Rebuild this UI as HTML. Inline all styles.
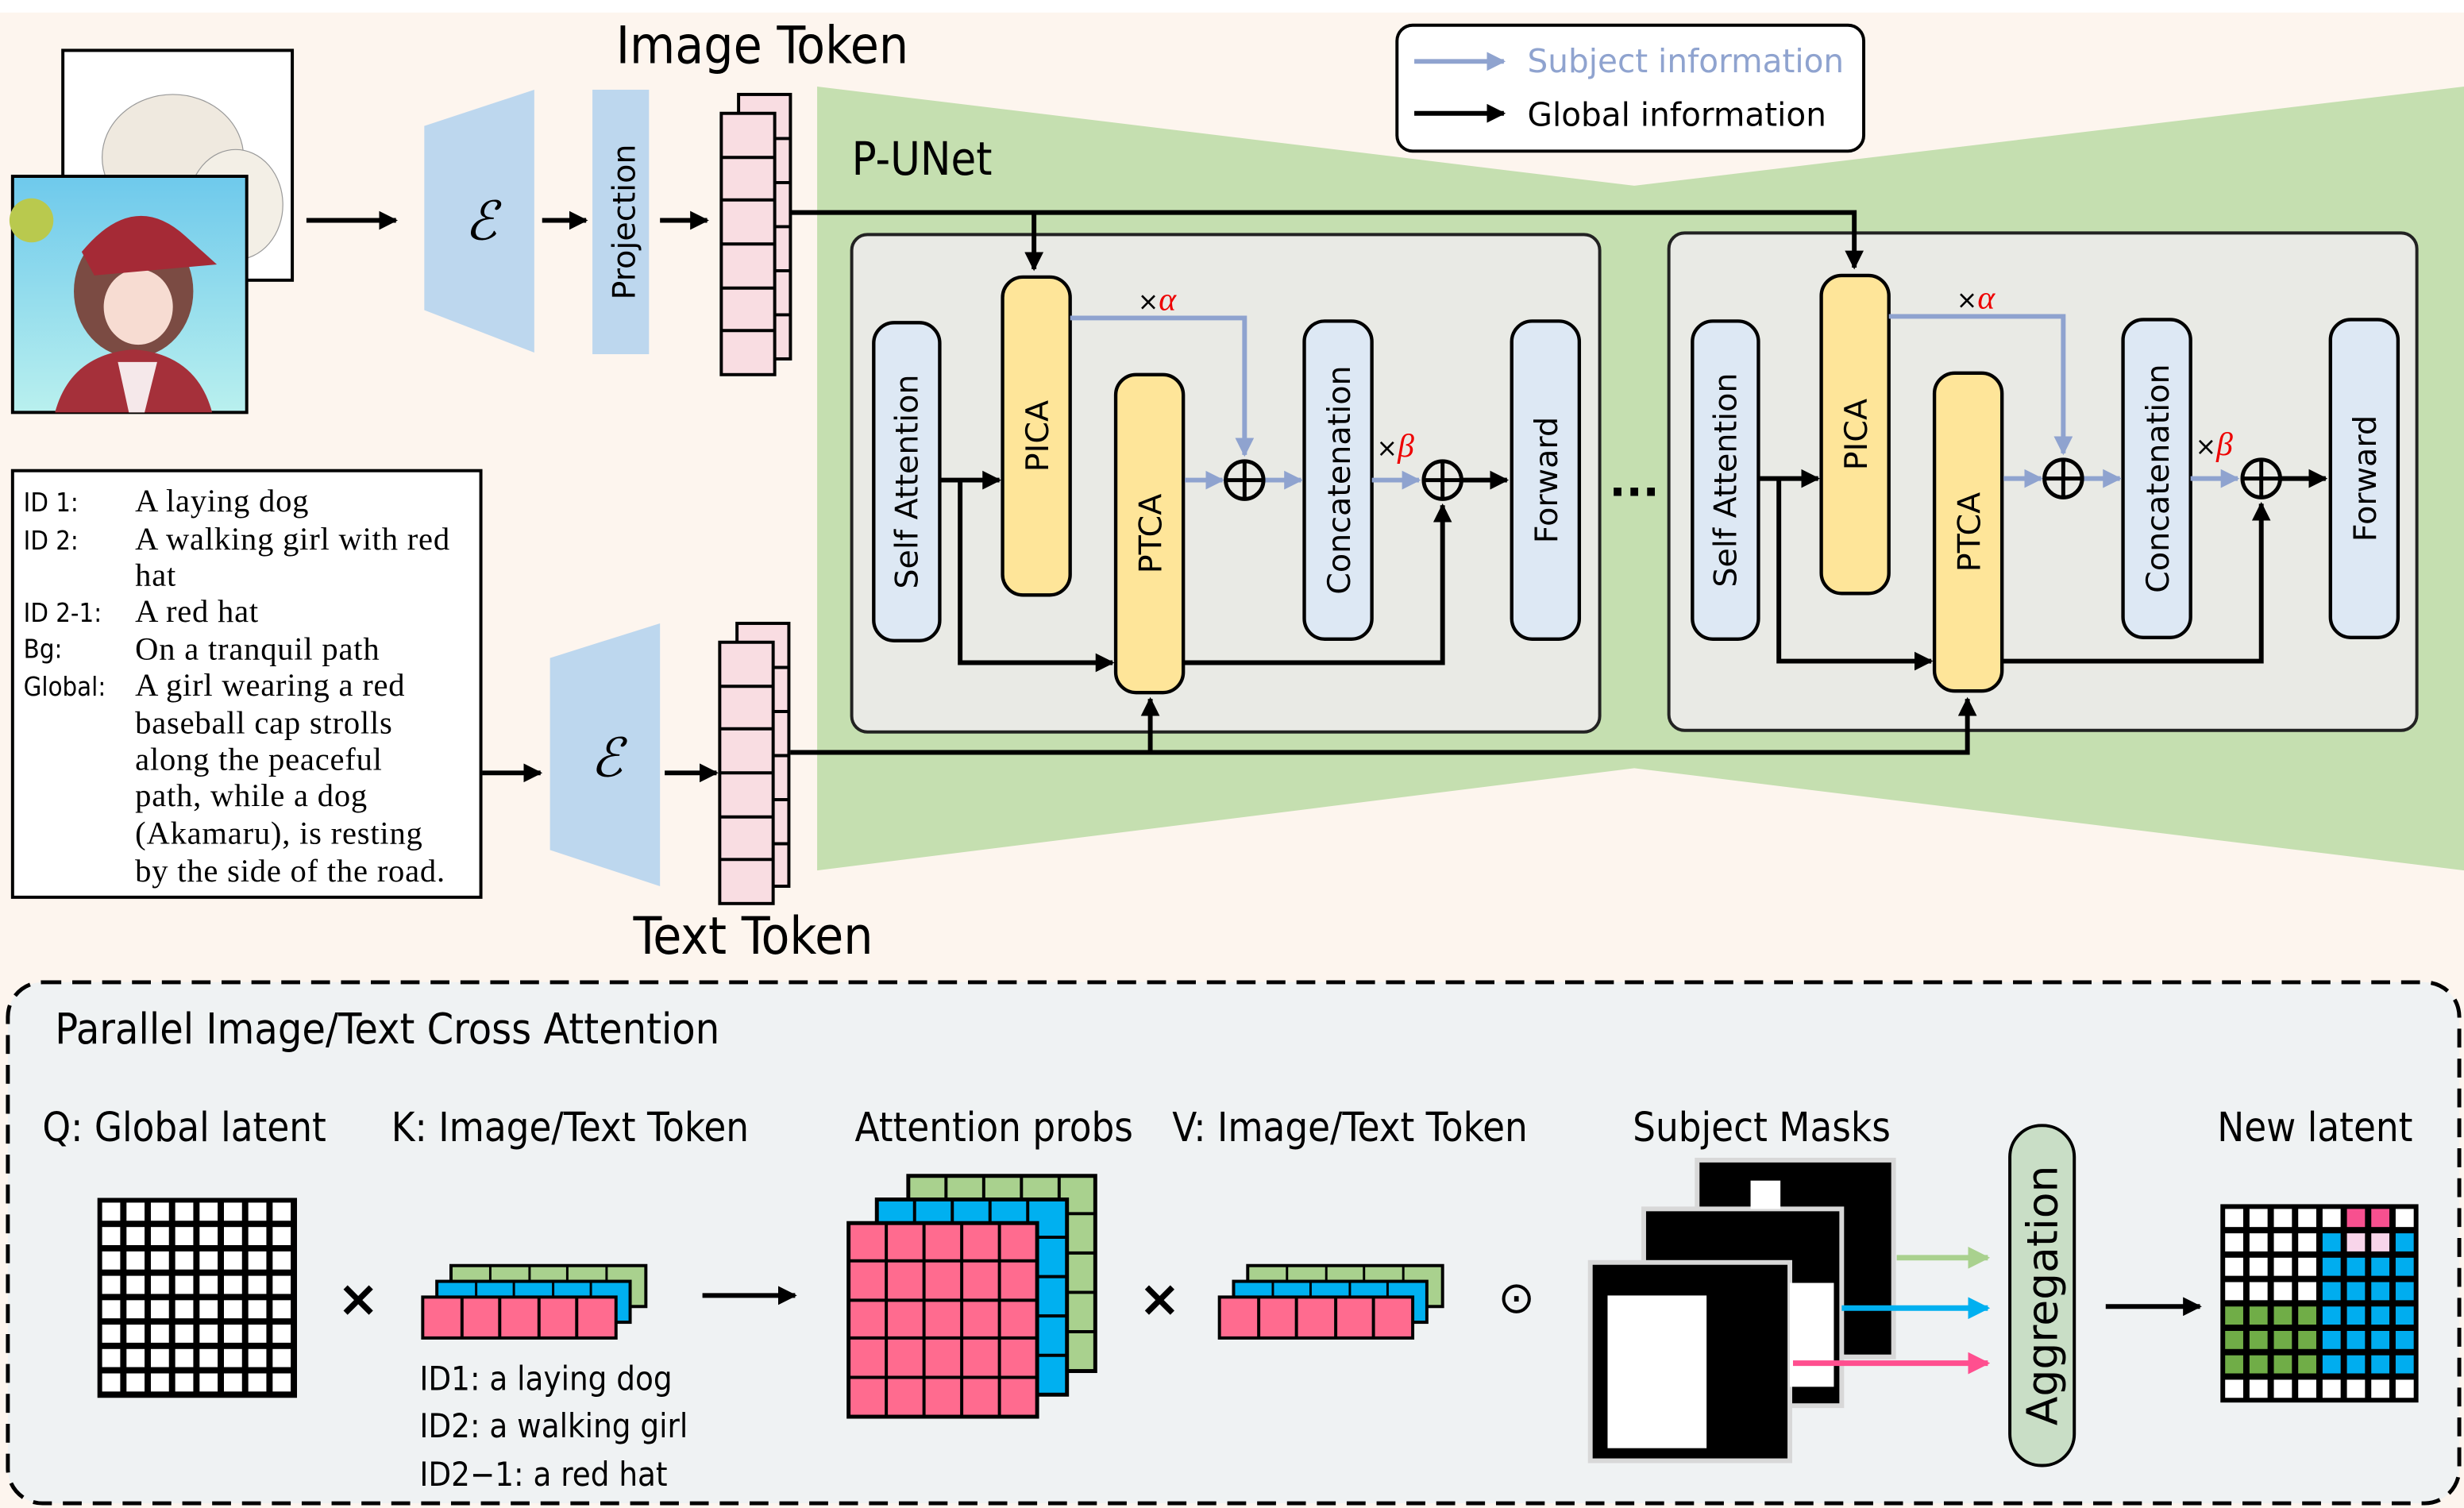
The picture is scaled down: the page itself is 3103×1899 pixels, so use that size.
<!DOCTYPE html>
<html><head><meta charset="utf-8"><style>
html,body{margin:0;padding:0;background:#fff;}
svg{display:block;}
.hw{font-family:"DejaVu Sans Condensed","DejaVu Sans",sans-serif;}
.sans{font-family:"DejaVu Sans","Liberation Sans",sans-serif;}
.ser{font-family:"Liberation Serif",serif;}
</style></head><body>
<svg width="3103" height="1899" viewBox="0 0 1568 958" preserveAspectRatio="none" xmlns="http://www.w3.org/2000/svg">
<defs>
<marker id="ab" viewBox="0 0 10 10" refX="9" refY="5" markerWidth="4" markerHeight="4" orient="auto"><path d="M0,0L10,5L0,10z" fill="#000"/></marker>
<marker id="ag" viewBox="0 0 10 10" refX="9" refY="5" markerWidth="4" markerHeight="4" orient="auto"><path d="M0,0L10,5L0,10z" fill="#8fa3cf"/></marker>
<marker id="agr" viewBox="0 0 10 10" refX="9" refY="5" markerWidth="4" markerHeight="4" orient="auto"><path d="M0,0L10,5L0,10z" fill="#a9d18e"/></marker>
<marker id="abl" viewBox="0 0 10 10" refX="9" refY="5" markerWidth="4" markerHeight="4" orient="auto"><path d="M0,0L10,5L0,10z" fill="#00b0f0"/></marker>
<marker id="apk" viewBox="0 0 10 10" refX="9" refY="5" markerWidth="4" markerHeight="4" orient="auto"><path d="M0,0L10,5L0,10z" fill="#ff4f8f"/></marker>
<pattern id="qg" x="63" y="762" width="15.5" height="15.5" patternUnits="userSpaceOnUse"><rect width="15.5" height="15.5" fill="#000"/><rect x="2" y="2" width="11.5" height="11.5" fill="#fff"/></pattern>
<pattern id="nw" x="1414" y="766" width="15.5" height="15.5" patternUnits="userSpaceOnUse"><rect width="15.5" height="15.5" fill="#000"/><rect x="2" y="2" width="11.5" height="11.5" fill="#fff"/></pattern>
<pattern id="nb" x="1414" y="766" width="15.5" height="15.5" patternUnits="userSpaceOnUse"><rect width="15.5" height="15.5" fill="#000"/><rect x="2" y="2" width="11.5" height="11.5" fill="#00adef"/></pattern>
<pattern id="np" x="1414" y="766" width="15.5" height="15.5" patternUnits="userSpaceOnUse"><rect width="15.5" height="15.5" fill="#000"/><rect x="2" y="2" width="11.5" height="11.5" fill="#f7508f"/></pattern>
<pattern id="nlp" x="1414" y="766" width="15.5" height="15.5" patternUnits="userSpaceOnUse"><rect width="15.5" height="15.5" fill="#000"/><rect x="2" y="2" width="11.5" height="11.5" fill="#f8d5ea"/></pattern>
<pattern id="ng" x="1414" y="766" width="15.5" height="15.5" patternUnits="userSpaceOnUse"><rect width="15.5" height="15.5" fill="#000"/><rect x="2" y="2" width="11.5" height="11.5" fill="#70ad47"/></pattern>
<linearGradient id="sky" x1="0" y1="0" x2="0" y2="1"><stop offset="0" stop-color="#6ec9ec"/><stop offset="1" stop-color="#b9f0ee"/></linearGradient>
</defs>
<rect x="0" y="0" width="1568" height="958" fill="#fff"/>
<rect x="0" y="8" width="1568" height="950" fill="#fdf5ee"/>
<rect x="5" y="624" width="1560" height="331" rx="22" fill="#eff2f3" stroke="#000" stroke-width="2.5" stroke-dasharray="12,7"/>
<polygon points="520,55 1040,118 1568,55 1568,553 1040,488 520,553" fill="#c5dfb0"/>

<rect x="40" y="32" width="146" height="146" fill="#fff" stroke="#000" stroke-width="2"/>
<ellipse cx="110" cy="100" rx="45" ry="40" fill="#efe9df" stroke="#999" stroke-width="0.6"/>
<ellipse cx="150" cy="130" rx="30" ry="35" fill="#f3efe6" stroke="#999" stroke-width="0.6"/>
<rect x="8" y="112" width="149" height="150" fill="url(#sky)" stroke="#000" stroke-width="2"/>
<circle cx="20" cy="140" r="14" fill="#b9c94e"/>
<ellipse cx="85" cy="185" rx="38" ry="42" fill="#7b4b43"/>
<ellipse cx="88" cy="195" rx="22" ry="24" fill="#f7dcd2"/>
<path d="M52,160 Q85,120 118,150 L138,168 L60,175z" fill="#a52a36"/>
<path d="M35,262 Q45,225 85,222 Q125,225 135,262z" fill="#a5303a"/>
<path d="M75,230 L100,230 L92,262 L82,262z" fill="#f5e8ea"/>

<polygon points="270,80 340,57 340,224 270,197" fill="#bdd7ee"/>
<text x="306" y="152" class="ser" font-size="34" font-style="italic" text-anchor="middle">ℰ</text>
<rect x="377" y="57" width="36" height="168" fill="#bdd7ee"/>
<text transform="translate(404,141) rotate(-90)" class="sans" font-size="20" text-anchor="middle">Projection</text>
<polygon points="350,418 420,396 420,563 350,540" fill="#bdd7ee"/>
<text x="386" y="493" class="ser" font-size="34" font-style="italic" text-anchor="middle">ℰ</text>

<g stroke="#000" stroke-width="2" fill="#f9dde2">
<rect x="470" y="60" width="33" height="168"/>
<line x1="470" y1="88" x2="503" y2="88"/><line x1="470" y1="116" x2="503" y2="116"/><line x1="470" y1="144" x2="503" y2="144"/><line x1="470" y1="172" x2="503" y2="172"/><line x1="470" y1="200" x2="503" y2="200"/>
<rect x="459" y="72" width="34" height="166"/>
<line x1="459" y1="100" x2="493" y2="100"/><line x1="459" y1="127" x2="493" y2="127"/><line x1="459" y1="155" x2="493" y2="155"/><line x1="459" y1="183" x2="493" y2="183"/><line x1="459" y1="210" x2="493" y2="210"/>
<rect x="469" y="396" width="33" height="167"/>
<line x1="469" y1="424" x2="502" y2="424"/><line x1="469" y1="452" x2="502" y2="452"/><line x1="469" y1="480" x2="502" y2="480"/><line x1="469" y1="508" x2="502" y2="508"/><line x1="469" y1="536" x2="502" y2="536"/>
<rect x="458" y="408" width="34" height="166"/>
<line x1="458" y1="436" x2="492" y2="436"/><line x1="458" y1="463" x2="492" y2="463"/><line x1="458" y1="491" x2="492" y2="491"/><line x1="458" y1="519" x2="492" y2="519"/><line x1="458" y1="546" x2="492" y2="546"/>
</g>
<text x="392" y="40" class="hw" font-size="33">Image Token</text>
<text x="403" y="606" class="hw" font-size="33">Text Token</text>
<text x="542" y="111" class="hw" font-size="29">P-UNet</text>

<g stroke="#000" stroke-width="3" fill="none" marker-end="url(#ab)">
<line x1="195" y1="140" x2="252" y2="140"/>
<line x1="345" y1="140" x2="373" y2="140"/>
<line x1="420" y1="140" x2="450" y2="140"/>
<line x1="307" y1="491" x2="344" y2="491"/>
<line x1="423" y1="491" x2="456" y2="491"/>
</g>

<rect x="889" y="16" width="297" height="80" rx="10" fill="#fff" stroke="#000" stroke-width="2"/>
<line x1="900" y1="39" x2="957" y2="39" stroke="#8fa3cf" stroke-width="3" marker-end="url(#ag)"/>
<line x1="900" y1="72" x2="957" y2="72" stroke="#000" stroke-width="3" marker-end="url(#ab)"/>
<text x="972" y="46" class="sans" font-size="20.5" fill="#8fa3cf">Subject information</text>
<text x="972" y="80" class="sans" font-size="20.5">Global information</text>

<rect x="542" y="149" width="476" height="316" rx="10" fill="#e9eae5" stroke="#222" stroke-width="2"/>
<rect x="1062" y="148" width="476" height="316" rx="10" fill="#e9eae5" stroke="#222" stroke-width="2"/>
<text x="1040" y="322" class="sans" font-size="28" font-weight="bold" text-anchor="middle">···</text>

<g stroke="#000" stroke-width="3" fill="none">
<polyline points="503,135 1180,135 1180,170" marker-end="url(#ab)"/>
<line x1="658" y1="135" x2="658" y2="171" marker-end="url(#ab)"/>
<polyline points="503,478 1252,478 1252,444" marker-end="url(#ab)"/>
<line x1="732" y1="478" x2="732" y2="444" marker-end="url(#ab)"/>
</g>

<g id="blk">
<g stroke="#000" stroke-width="2.2">
<rect x="556" y="205" width="42" height="202" rx="13" fill="#dde8f4"/>
<rect x="638" y="176" width="43" height="202" rx="13" fill="#fee599"/>
<rect x="710" y="238" width="43" height="202" rx="13" fill="#fee599"/>
<rect x="830" y="204" width="43" height="202" rx="13" fill="#dde8f4"/>
<rect x="962" y="204" width="43" height="202" rx="13" fill="#dde8f4"/>
</g>
<g class="sans" font-size="20" text-anchor="middle">
<text transform="translate(584,306) rotate(-90)">Self Attention</text>
<text transform="translate(667,277) rotate(-90)">PICA</text>
<text transform="translate(739,339) rotate(-90)">PTCA</text>
<text transform="translate(859,305) rotate(-90)">Concatenation</text>
<text transform="translate(991,305) rotate(-90)">Forward</text>
</g>
<g stroke="#000" stroke-width="3" fill="none">
<line x1="598" y1="305" x2="636" y2="305" marker-end="url(#ab)"/>
<polyline points="611,305 611,421 708,421" marker-end="url(#ab)"/>
<polyline points="753,421 918,421 918,321" marker-end="url(#ab)"/>
<line x1="931" y1="305" x2="959" y2="305" marker-end="url(#ab)"/>
</g>
<g stroke="#8fa3cf" stroke-width="3" fill="none">
<polyline points="681,202 792,202 792,289" marker-end="url(#ag)"/>
<line x1="754" y1="305" x2="778" y2="305" marker-end="url(#ag)"/>
<line x1="805" y1="305" x2="828" y2="305" marker-end="url(#ag)"/>
<line x1="873" y1="305" x2="903" y2="305" marker-end="url(#ag)"/>
</g>
<g stroke="#000" stroke-width="2.5" fill="none">
<circle cx="792" cy="305" r="12"/><line x1="780" y1="305" x2="804" y2="305"/><line x1="792" y1="293" x2="792" y2="317"/>
<circle cx="918" cy="305" r="12"/><line x1="906" y1="305" x2="930" y2="305"/><line x1="918" y1="293" x2="918" y2="317"/>
</g>
<text x="724" y="197" class="sans" font-size="16">×<tspan fill="#e00" font-family="Liberation Serif" font-style="italic" font-size="21">α</tspan></text>
<text x="876" y="290" class="sans" font-size="16">×<tspan fill="#e00" font-family="Liberation Serif" font-style="italic" font-size="21">β</tspan></text>
</g>
<use href="#blk" x="521" y="-1"/>

<rect x="8" y="299" width="298" height="271" fill="#fff" stroke="#000" stroke-width="2"/>
<g class="hw" font-size="16.5">
<text x="15" y="325">ID 1:</text><text x="15" y="349">ID 2:</text><text x="15" y="395">ID 2-1:</text><text x="15" y="418">Bg:</text><text x="15" y="442">Global:</text>
</g>
<g class="ser" font-size="20.5" letter-spacing="0.4">
<text x="86" y="325">A laying dog</text>
<text x="86" y="349">A walking girl with red</text>
<text x="86" y="372">hat</text>
<text x="86" y="395">A red hat</text>
<text x="86" y="419">On a tranquil path</text>
<text x="86" y="442">A girl wearing a red</text>
<text x="86" y="466">baseball cap strolls</text>
<text x="86" y="489">along the peaceful</text>
<text x="86" y="512">path, while a dog</text>
<text x="86" y="536">(Akamaru), is resting</text>
<text x="86" y="560">by the side of the road.</text>
</g>

<g class="hw">
<text x="35" y="663" font-size="27">Parallel Image/Text Cross Attention</text>
<g font-size="25.5">
<text x="27" y="725">Q: Global latent</text>
<text x="249" y="725">K: Image/Text Token</text>
<text x="544" y="725">Attention probs</text>
<text x="746" y="725">V: Image/Text Token</text>
<text x="1039" y="725">Subject Masks</text>
<text x="1411" y="725">New latent</text>
</g>
</g>
<rect x="63" y="762" width="125" height="125" fill="url(#qg)" stroke="#000" stroke-width="2"/>
<text x="228" y="836" class="sans" font-size="32" font-weight="bold" text-anchor="middle">×</text>
<text x="738" y="836" class="sans" font-size="32" font-weight="bold" text-anchor="middle">×</text>
<text x="965" y="834" class="sans" font-size="28" text-anchor="middle">⊙</text>

<g id="tok" stroke="#000" stroke-width="2">
<rect x="287" y="804" width="124" height="26" fill="#a9d18e"/>
<g stroke-width="1.5"><line x1="312" y1="804" x2="312" y2="816"/><line x1="337" y1="804" x2="337" y2="816"/><line x1="361" y1="804" x2="361" y2="816"/><line x1="386" y1="804" x2="386" y2="816"/></g>
<rect x="278" y="814" width="123" height="26" fill="#00b0f0"/>
<g stroke-width="1.5"><line x1="303" y1="814" x2="303" y2="826"/><line x1="327" y1="814" x2="327" y2="826"/><line x1="352" y1="814" x2="352" y2="826"/><line x1="376" y1="814" x2="376" y2="826"/></g>
<rect x="269" y="824" width="123" height="26" fill="#ff6b8f"/>
<g stroke-width="2"><line x1="294" y1="824" x2="294" y2="850"/><line x1="318" y1="824" x2="318" y2="850"/><line x1="343" y1="824" x2="343" y2="850"/><line x1="367" y1="824" x2="367" y2="850"/></g>
</g>
<use href="#tok" x="507" y="0"/>
<g class="hw" font-size="21">
<text x="267" y="883">ID1: a laying dog</text>
<text x="267" y="913">ID2: a walking girl</text>
<text x="267" y="944">ID2−1: a red hat</text>
</g>
<line x1="447" y1="823" x2="506" y2="823" stroke="#000" stroke-width="3" marker-end="url(#ab)"/>

<g stroke="#000" stroke-width="2.5">
<rect x="578" y="747" width="119" height="124" fill="#a9d18e"/>
<rect x="558" y="762" width="121" height="124" fill="#00b0f0"/>
<rect x="540" y="777" width="120" height="123" fill="#ff6b8f"/>
</g>
<g stroke="#000" stroke-width="2">
<line x1="602" y1="747" x2="602" y2="762"/><line x1="626" y1="747" x2="626" y2="762"/><line x1="650" y1="747" x2="650" y2="762"/><line x1="674" y1="747" x2="674" y2="762"/>
<line x1="679" y1="771" x2="697" y2="771"/><line x1="679" y1="796" x2="697" y2="796"/><line x1="679" y1="821" x2="697" y2="821"/><line x1="679" y1="846" x2="697" y2="846"/>
<line x1="582" y1="762" x2="582" y2="777"/><line x1="606" y1="762" x2="606" y2="777"/><line x1="630" y1="762" x2="630" y2="777"/><line x1="654" y1="762" x2="654" y2="777"/>
<line x1="660" y1="786" x2="679" y2="786"/><line x1="660" y1="811" x2="679" y2="811"/><line x1="660" y1="836" x2="679" y2="836"/><line x1="660" y1="861" x2="679" y2="861"/>
<line x1="564" y1="777" x2="564" y2="900"/><line x1="588" y1="777" x2="588" y2="900"/><line x1="612" y1="777" x2="612" y2="900"/><line x1="636" y1="777" x2="636" y2="900"/>
<line x1="540" y1="801" x2="660" y2="801"/><line x1="540" y1="826" x2="660" y2="826"/><line x1="540" y1="850" x2="660" y2="850"/><line x1="540" y1="875" x2="660" y2="875"/>
</g>

<g stroke="#d8d8d8" stroke-width="3">
<rect x="1080" y="737" width="125" height="125" fill="#000"/>
<rect x="1046" y="768" width="126" height="125" fill="#000"/>
<rect x="1012" y="802" width="127" height="126" fill="#000"/>
</g>
<rect x="1114" y="750" width="19" height="18" fill="#fff"/>
<rect x="1139" y="815" width="28" height="66" fill="#fff"/>
<rect x="1023" y="823" width="63" height="97" fill="#fff"/>
<line x1="1207" y1="799" x2="1265" y2="799" stroke="#a9d18e" stroke-width="3.5" marker-end="url(#agr)"/>
<line x1="1172" y1="831" x2="1265" y2="831" stroke="#00b0f0" stroke-width="3.5" marker-end="url(#abl)"/>
<line x1="1141" y1="866" x2="1265" y2="866" stroke="#ff4f8f" stroke-width="3.5" marker-end="url(#apk)"/>
<rect x="1279" y="715" width="41" height="216" rx="20" fill="#c9dec6" stroke="#000" stroke-width="2"/>
<text transform="translate(1309,823) rotate(-90)" class="sans" font-size="27" text-anchor="middle">Aggregation</text>
<line x1="1340" y1="830" x2="1400" y2="830" stroke="#000" stroke-width="3" marker-end="url(#ab)"/>

<rect x="1414" y="766" width="124" height="124" fill="url(#nw)"/>
<rect x="1476" y="781.5" width="62" height="93" fill="url(#nb)"/>
<rect x="1491.5" y="766" width="31" height="15.5" fill="url(#np)"/>
<rect x="1491.5" y="781.5" width="31" height="15.5" fill="url(#nlp)"/>
<rect x="1414" y="828" width="62" height="46.5" fill="url(#ng)"/>
<rect x="1414" y="766" width="124" height="124" fill="none" stroke="#000" stroke-width="2"/>
</svg>
</body></html>
